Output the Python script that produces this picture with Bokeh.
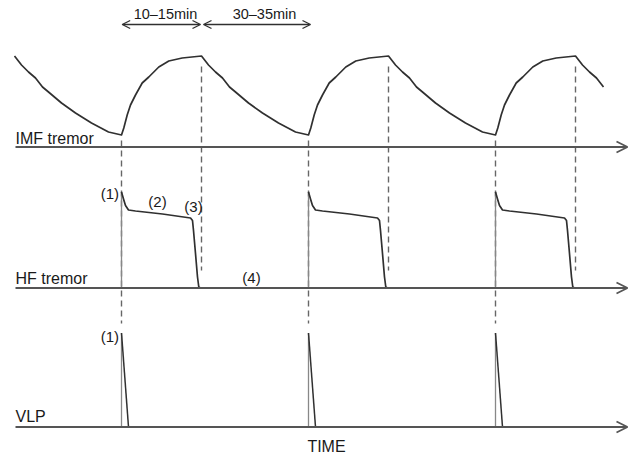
from bokeh.plotting import figure
from bokeh.models import Range1d, Arrow, OpenHead
from bokeh.core.properties import value
from bokeh.embed import file_html
from bokeh.resources import INLINE

# ---- data (time in arbitrary units, amplitudes above each trace's baseline) ----
cycle_onsets = [0, 187, 374]

# IMF tremor: slow rise after each onset, then a long decay
imf_rise_t = [0, 2.3, 5.7, 9, 14, 20.7, 27.3, 37.3, 47.3, 60.7, 80]
imf_rise_amp = [12, 19, 32, 42, 52, 64, 70, 80, 86, 89, 91]
imf_decay_t = [0, 7, 14, 21, 28, 34, 47, 61, 77, 94, 107]
imf_decay_amp = [91, 82, 75, 69, 60, 55, 44, 34, 24, 15, 12]
imf_tail = 28          # last decay is cut off this long after the final peak

# HF tremor: jump (1), slow decline (2), sharp drop (3), quiet phase (4)
hf_t = [0, 2, 4, 7, 14, 41, 69, 71, 72, 74, 76, 77.3, 79]
hf_amp = [96, 89, 82.5, 78, 77, 74, 70, 67.5, 57.5, 34.5, 11, 1, 0]

# VLP: short pulse at each onset
vlp_peak = 94
vlp_fall = 7

# interval annotations
interval_labels = ["10\u201315min", "30\u201335min"]
trace_names = ["IMF tremor", "HF tremor", "VLP"]
phase_labels = ["(1)", "(2)", "(3)", "(4)"]

# ---- layout ----
W, H = 640, 461
X0 = 121                       # screen column of the first onset
ROW = {"IMF tremor": 146.5, "HF tremor": 287.5, "VLP": 426.5}
AX_START, AX_END = 15 - X0, 627 - X0
TY = -6.5                      # baseline correction for the svg text glyphs

FONT = value("Liberation Sans")
INK = "#303030"
AXIS = "#555555"
TEXT = "#1a1a1a"

p = figure(width=W, height=H, x_range=Range1d(-X0, W - X0), y_range=Range1d(H, 0),
           output_backend="svg", toolbar_location=None, min_border=0,
           x_axis_type=None, y_axis_type=None)
p.grid.visible = False
p.outline_line_color = None
p.background_fill_color = "white"
p.border_fill_color = "white"

rise_dur = imf_rise_t[-1]
decay_dur = imf_decay_t[-1]

# dashed guides at onsets and at the end of each rise
on_x = list(cycle_onsets)
pk_x = [t0 + rise_dur for t0 in cycle_onsets]
p.segment(x0=on_x, y0=[140] * len(on_x), x1=on_x, y1=[323] * len(on_x),
          line_color="#666666", line_width=1.4, line_dash="6 4")
p.segment(x0=pk_x, y0=[66] * len(pk_x), x1=pk_x, y1=[270] * len(pk_x),
          line_color="#666666", line_width=1.4, line_dash="6 4")

# time axes with open arrow heads
for name in trace_names:
    y = ROW[name]
    p.add_layout(Arrow(end=OpenHead(size=11, line_color=AXIS, line_width=1.8),
                       x_start=AX_START, y_start=y, x_end=AX_END, y_end=y,
                       line_color=AXIS, line_width=2))

# IMF trace
base = ROW["IMF tremor"]
xs, ys = [], []
lead = cycle_onsets[0] - decay_dur
for t, a in zip(imf_decay_t, imf_decay_amp):
    xs.append(lead + t)
    ys.append(base - a)
for i, t0 in enumerate(cycle_onsets):
    for t, a in zip(imf_rise_t, imf_rise_amp):
        xs.append(t0 + t)
        ys.append(base - a)
    last = i == len(cycle_onsets) - 1
    for t, a in zip(imf_decay_t[1:], imf_decay_amp[1:]):
        if last and t > imf_tail:
            break
        xs.append(t0 + rise_dur + t)
        ys.append(base - a)
p.line(xs, ys, line_color=INK, line_width=1.7, line_join="round")

# HF trace
base = ROW["HF tremor"]
p.segment(x0=on_x, y0=[base] * len(on_x), x1=on_x, y1=[base - hf_amp[0]] * len(on_x),
          line_color="#888888", line_width=1.3)
p.multi_line(xs=[[t0 + t for t in hf_t] for t0 in cycle_onsets],
             ys=[[base - a for a in hf_amp] for _ in cycle_onsets],
             line_color=INK, line_width=1.7, line_join="round")

# VLP trace
base = ROW["VLP"]
p.segment(x0=on_x, y0=[base] * len(on_x), x1=on_x, y1=[base - vlp_peak] * len(on_x),
          line_color="#888888", line_width=1.3)
p.segment(x0=on_x, y0=[base - vlp_peak] * len(on_x),
          x1=[t0 + vlp_fall for t0 in on_x], y1=[base] * len(on_x),
          line_color=INK, line_width=1.5)

# interval arrows on top
for xa, xb in [(cycle_onsets[0] + 0.7, pk_x[0] - 1), (pk_x[0] + 2, cycle_onsets[1] + 2)]:
    p.add_layout(Arrow(start=OpenHead(size=8, line_color=INK, line_width=1.3),
                       end=OpenHead(size=8, line_color=INK, line_width=1.3),
                       x_start=xa, y_start=24, x_end=xb, y_end=24,
                       line_color=INK, line_width=1.3))
p.text(x=[44, 143], y=[20 + TY, 20 + TY], text=interval_labels, text_font=FONT,
       text_font_size="14.5px", text_color=TEXT, text_align="center",
       text_baseline="alphabetic")

# trace names
p.text(x=[AX_START] * 3, y=[144 + TY, 284 + TY, 422 + TY], text=trace_names,
       text_font=FONT, text_font_size="16px", text_color=TEXT, text_align="left",
       text_baseline="alphabetic")
p.text(x=[326 - X0], y=[452 + TY], text=["TIME"], text_font=FONT,
       text_font_size="16px", text_color=TEXT, text_align="center",
       text_baseline="alphabetic")

# phase markers
p.text(x=[-2.5, -2.5], y=[199 + TY, 342 + TY], text=[phase_labels[0]] * 2,
       text_font=FONT, text_font_size="15px", text_color=TEXT,
       text_align="right", text_baseline="alphabetic")
p.text(x=[36, 72, 130], y=[207 + TY, 212 + TY, 283 + TY],
       text=phase_labels[1:], text_font=FONT, text_font_size="15px", text_color=TEXT,
       text_align="center", text_baseline="alphabetic")

open("out.html", "w").write(file_html(p, INLINE))
